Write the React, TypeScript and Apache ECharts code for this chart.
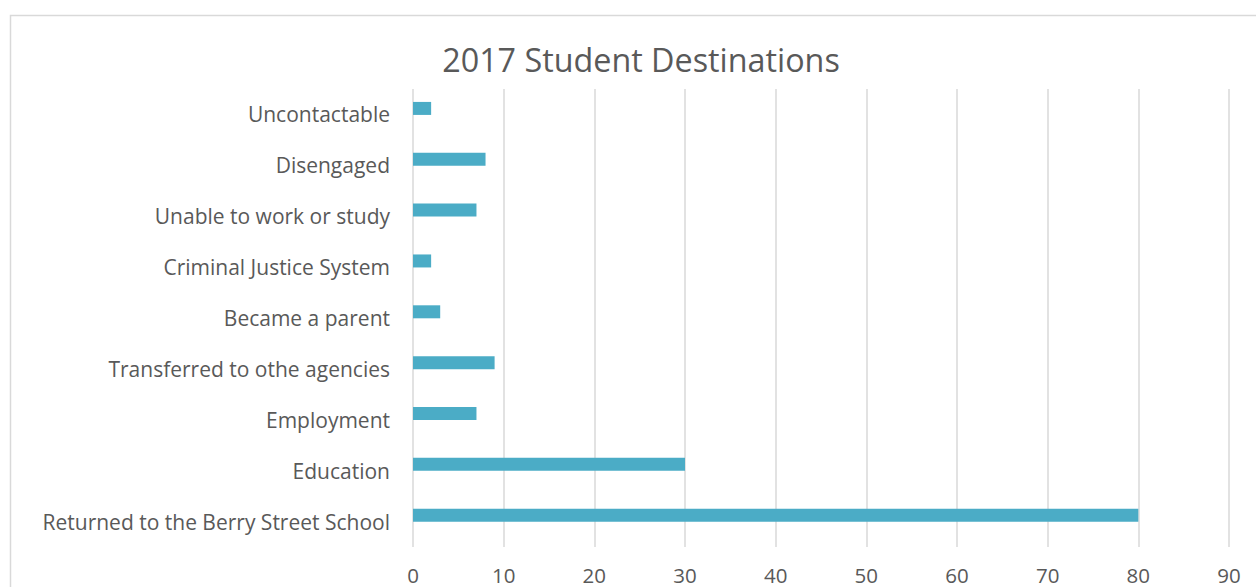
import React, { useEffect, useRef } from "react";
import * as echarts from "echarts";

const categories = [
  "Returned to the Berry Street School",
  "Education",
  "Employment",
  "Transferred to othe agencies",
  "Became a parent",
  "Criminal Justice System",
  "Unable to work or study",
  "Disengaged",
  "Uncontactable",
];
const values = [80, 30, 7, 9, 3, 2, 7, 8, 2];
const titleText = "2017 Student Destinations";
const xMin = 0;
const xMax = 90;
const xStep = 10;

export default function App() {
  const ref = useRef<HTMLDivElement>(null);
  useEffect(() => {
    if (!ref.current) return;
    const chart = echarts.init(ref.current, null, { renderer: "svg" });
    const font = "'Open Sans', 'Noto Sans', sans-serif";
    chart.setOption({
      animation: false,
      backgroundColor: "#ffffff",
      title: {
        text: titleText,
        left: 636,
        textAlign: "center",
        top: 38,
        textStyle: { fontFamily: font, fontSize: 32.3, fontWeight: "normal", color: "#595959" },
      },
      graphic: [
        {
          type: "rect",
          shape: { x: 10.5, y: 15.5, width: 1260, height: 600 },
          style: { fill: "none", stroke: "#D9D9D9", lineWidth: 1.5 },
          silent: true,
        },
      ],
      grid: [
        { left: 413, right: 27, top: 89, bottom: 40, containLabel: false },
        { left: 413, right: 27, top: 83, bottom: 46.4, containLabel: false },
      ],
      xAxis: [
        {
          type: "value",
          gridIndex: 0,
          min: xMin,
          max: xMax,
          interval: xStep,
          axisLine: { show: false },
          axisTick: { show: false },
          splitLine: { show: true, lineStyle: { color: "#D9D9D9", width: 1.5 } },
          axisLabel: { fontFamily: font, fontSize: 20.5, color: "#595959", margin: 17 },
        },
        {
          type: "value",
          gridIndex: 1,
          min: xMin,
          max: xMax,
          interval: xStep,
          show: false,
        },
      ],
      yAxis: [
        {
          type: "category",
          gridIndex: 0,
          data: categories,
          axisLine: { show: false },
          axisTick: { show: false },
          splitLine: { show: false },
          axisLabel: {
            fontFamily: font,
            fontSize: 21,
            color: "#595959",
            margin: 23,
          },
        },
        {
          type: "category",
          gridIndex: 1,
          data: categories,
          show: false,
        },
      ],
      series: [
        {
          type: "bar",
          xAxisIndex: 1,
          yAxisIndex: 1,
          data: values,
          barWidth: 13,
          itemStyle: { color: "#4BACC6" },
        },
      ],
    });
    return () => chart.dispose();
  }, []);
  return (
    <div
      ref={ref}
      style={{ position: "fixed", left: 0, top: 0, width: 1256, height: 587 }}
    />
  );
}
